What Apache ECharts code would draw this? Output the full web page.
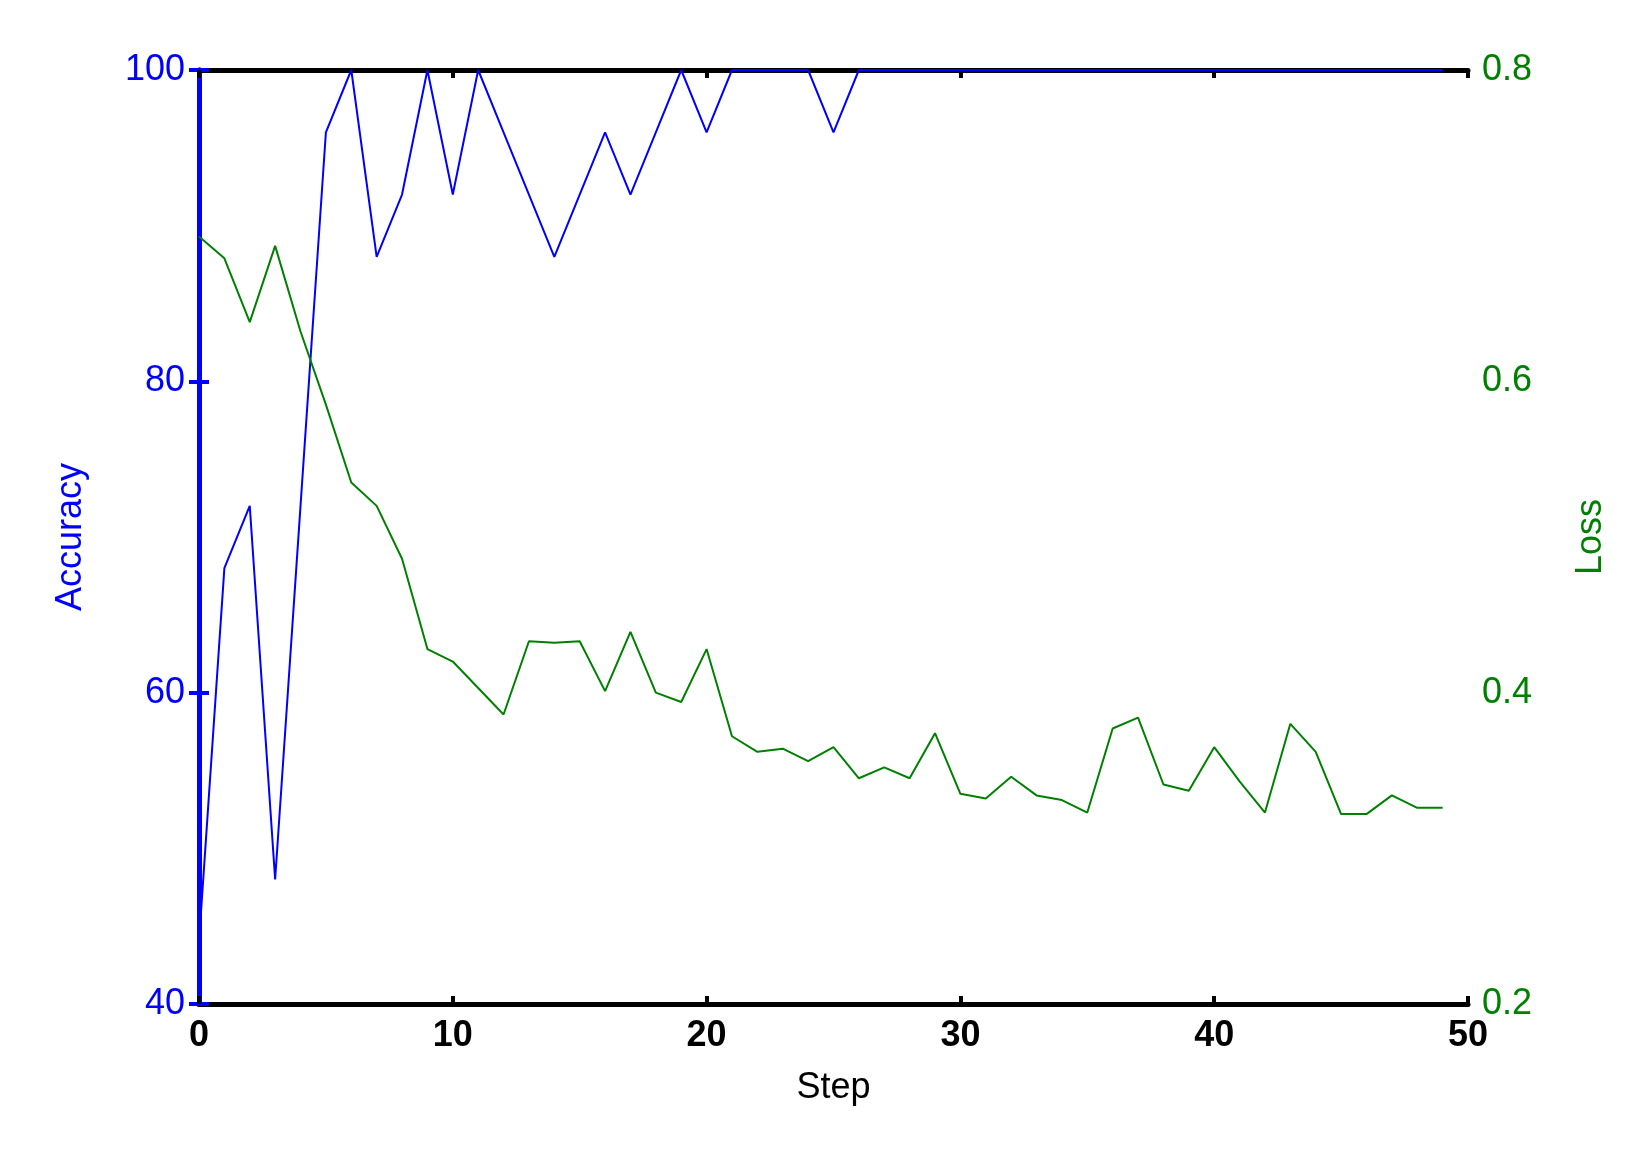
<!DOCTYPE html>
<html><head><meta charset="utf-8">
<script src="https://cdn.jsdelivr.net/npm/echarts@6/dist/echarts.min.js"></script>
<style>html,body{margin:0;background:#fff}#c{width:1646px;height:1155px}</style>
</head><body><div id="c"></div>
<script>
// step index 0..49
var steps = [];
for (var i = 0; i < 50; i++) steps.push(i);
var accuracy = [44,68,72,48,72,96,100,88,92,100,92,100,96,92,88,92,96,92,96,100,
	96,100,100,100,100,96,100,100,100,100,100,100,100,100,100,100,100,100,100,100,
	100,100,100,100,100,100,100,100,100,100];
var loss = [0.693,0.679,0.638,0.687,0.632,0.585,0.535,0.52,0.486,0.428,
	0.42,0.403,0.386,0.433,0.432,0.433,0.401,0.439,0.40,0.394,
	0.428,0.372,0.362,0.364,0.356,0.365,0.345,0.352,0.345,0.374,
	0.335,0.332,0.346,0.334,0.331,0.323,0.377,0.384,0.341,0.337,
	0.365,0.343,0.323,0.38,0.362,0.322,0.322,0.334,0.326,0.326];

var chart = echarts.init(document.getElementById('c'));
var font = 'Liberation Sans';
chart.setOption({
	animation: false,
	grid: {left: 199, right: 178, top: 70, bottom: 151},
	xAxis: [{
		type: 'value', min: 0, max: 50, interval: 10,
		name: 'Step', nameLocation: 'middle', nameGap: 66,
		nameTextStyle: {fontFamily: font, fontSize: 36, color: '#000'},
		axisLine: {lineStyle: {color: '#000', width: 5}},
		axisTick: {inside: true, length: 8, lineStyle: {color: '#000', width: 4}},
		axisLabel: {fontFamily: font, fontSize: 36, fontWeight: 'bold', color: '#000', margin: 14},
		splitLine: {show: false}
	}, {
		type: 'value', min: 0, max: 50, interval: 10, position: 'top',
		axisLine: {lineStyle: {color: '#000', width: 5}},
		axisTick: {inside: true, length: 8, lineStyle: {color: '#000', width: 4}},
		axisLabel: {show: false}, splitLine: {show: false}
	}],
	yAxis: [{
		type: 'value', min: 40, max: 100, interval: 20,
		name: 'Accuracy', nameLocation: 'middle', nameGap: 110, nameRotate: 90,
		nameTextStyle: {fontFamily: font, fontSize: 36, color: '#0000ff'},
		axisLine: {show: true, lineStyle: {color: '#0000ff', width: 5}},
		axisTick: {inside: true, length: 10, lineStyle: {color: '#0000ff', width: 4}},
		axisLabel: {fontFamily: font, fontSize: 36, color: '#0000ff', margin: 14},
		splitLine: {show: false}
	}, {
		type: 'value', min: 0.2, max: 0.8, interval: 0.2, position: 'right',
		name: 'Loss', nameLocation: 'middle', nameGap: 105, nameRotate: 90,
		nameTextStyle: {fontFamily: font, fontSize: 36, color: '#008000'},
		axisLine: {show: true, lineStyle: {color: '#0000ff', width: 5}},
		axisTick: {inside: true, length: 10, lineStyle: {color: '#0000ff', width: 4}},
		axisLabel: {fontFamily: font, fontSize: 36, color: '#008000', margin: 14,
			formatter: function (v) { return v.toFixed(1); }},
		splitLine: {show: false}
	}],
	series: [{
		type: 'line', yAxisIndex: 0, symbol: 'none',
		data: steps.map(function (s, i) { return [s, accuracy[i]]; }),
		lineStyle: {color: '#0000ff', width: 2}
	}, {
		type: 'line', yAxisIndex: 1, symbol: 'none',
		data: steps.map(function (s, i) { return [s, loss[i]]; }),
		lineStyle: {color: '#008000', width: 2}
	}]
});
</script>
</body></html>
